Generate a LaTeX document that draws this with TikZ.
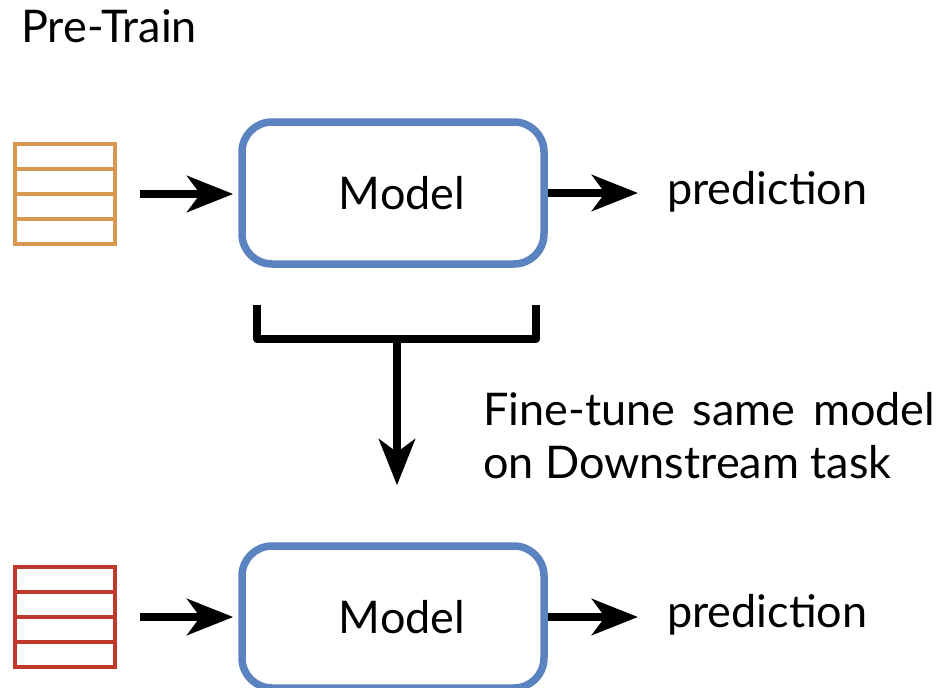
\documentclass[tikz,border=0pt]{standalone}
\usepackage{fontspec}
\setmainfont{Lato}
\usetikzlibrary{arrows.meta}
\definecolor{inorange}{RGB}{216,152,82}
\definecolor{inred}{RGB}{190,56,44}
\definecolor{boxblue}{RGB}{91,131,191}
\tikzset{
  arr/.style={line width=8pt,-{Stealth[length=46pt,width=36pt,inset=13pt]}},
  stack/.style={draw=#1,line width=4pt,minimum width=100pt,minimum height=100pt,outer sep=0pt,inner sep=0pt},
  modelbox/.style={draw=boxblue,line width=7.5pt,rounded corners=30pt,minimum width=302pt,minimum height=142pt},
  txt/.style={inner sep=0pt}
}
\begin{document}
\begin{tikzpicture}[x=1pt,y=-1pt,font=\fontsize{45}{53}\selectfont]
			\useasboundingbox (0,0) rectangle (943,688);
			\node[txt,anchor=base west] (title) at (21,42) {Pre-Train};
			\node[stack=inorange] (in1) at (65,194) {};
			\node[stack=inred] (in2) at (65,617) {};
			\foreach \s/\c in {in1/inorange,in2/inred}{
				\foreach \d in {-25,0,25}{\draw[\c,line width=4pt] ([yshift=\d pt]\s.west)--([yshift=\d pt]\s.east);}
			}
			\node[modelbox] (model1) at (393,193) {\hspace*{18pt}Model};
			\node[modelbox] (model2) at (393,617) {\hspace*{18pt}Model};
			\node[txt,anchor=base west] (pred1) at (667,204) {prediction};
			\node[txt,anchor=base west] (pred2) at (667,627) {prediction};
			\draw[arr,shorten <=25pt,shorten >=5pt] (in1.east)--(in1.east-|model1.west);
			\draw[arr,shorten <=25pt,shorten >=5pt] (in2.east)--(in2.east-|model2.west);
			\draw[arr,shorten >=29pt] (model1.east)--(model1.east-|pred1.west);
			\draw[arr,shorten >=29pt] (model2.east)--(model2.east-|pred2.west);
			\coordinate (bl) at (257,305);
			\coordinate (br) at (536,305);
			\coordinate (brk) at (397,339);
			\draw[line width=8pt,line join=round] (bl)|-(brk)-|(br);
			\draw[arr,shorten >=57pt] (brk)--(brk|-model2.north);
			\node[txt,anchor=base west,align=left] (ft) at (483,478) {\makebox[452pt][s]{Fine-tune same model}\\on Downstream task};
		\end{tikzpicture}
\end{document}
